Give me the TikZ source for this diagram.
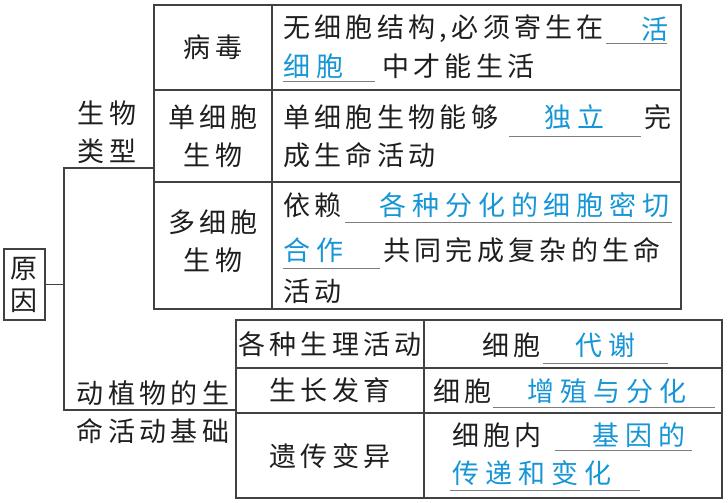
\documentclass[tikz,border=0pt]{standalone}
\usepackage{fontspec}
\usepackage{xcolor}
\usepackage{tikz}
\usetikzlibrary{positioning,fit,calc}
\setmainfont{Noto Sans CJK SC}
\newfontfamily\cjk[LetterSpace=16]{Noto Sans CJK SC}
\newfontfamily\cjkans[LetterSpace=22]{Noto Sans CJK SC}
\definecolor{gridrule}{RGB}{65,65,65}
\definecolor{blankrule}{RGB}{125,125,125}
\definecolor{answerblue}{RGB}{22,150,214}
\definecolor{inkblack}{RGB}{30,30,30}
\tikzset{
  frame/.style={draw=gridrule,line width=0.9pt,inner sep=0pt},
  rule/.style={draw=gridrule,line width=0.9pt},
  blank/.style={draw=blankrule,line width=0.6pt},
  head/.style={align=center,inner sep=0pt,text=inkblack,font=\cjk\fontsize{20.25pt}{28.5pt}\selectfont},
  txt/.style={anchor=west,inner sep=0pt,text=inkblack,font=\cjk\fontsize{20.25pt}{24pt}\selectfont},
  ans/.style={anchor=west,inner sep=0pt,text=answerblue,font=\cjkans\fontsize{20.25pt}{24pt}\selectfont},
  rootbox/.style={draw=gridrule,line width=0.9pt,align=center,inner sep=0pt,minimum width=30.75pt,minimum height=53.25pt,text=inkblack,font=\cjk\fontsize{20.25pt}{24pt}\selectfont}
}
\begin{document}
\begin{tikzpicture}[x=0.75pt,y=-0.75pt]
  \useasboundingbox (0,0) rectangle (728,503);
  \coordinate (tt1) at (154,5);
  \coordinate (tt2) at (681,309);
  \coordinate (bt1) at (236,320);
  \coordinate (bt2) at (722,498);
  \node[frame,fit=(tt1)(tt2)] (toptab) {};
  \node[frame,fit=(bt1)(bt2)] (bottab) {};
  \draw[rule] (272,5) -- (272,309);
  \draw[rule] (154,90) -- (681,90);
  \draw[rule] (154,182) -- (681,182);
  \draw[rule] (424,320) -- (424,498);
  \draw[rule] (236,368) -- (722,368);
  \draw[rule] (236,413) -- (722,413);

  \node[rootbox] (cause) at (24.5,284.5) {原\\因};
  \coordinate (brtop) at (64,168);
  \coordinate (brbot) at (64,410);
  \draw[rule] (toptab.west |- brtop) -- (brtop) -- (brbot) -- (bottab.west |- brbot);
  \draw[rule] (cause.east) -- (cause.east -| brtop);

  \node[head] (kinds) at (107,132) {生物\\类型};
  \node[head] (basis) at (153,412.5) {动植物的生\\命活动基础};

  \node[head] (virus) at (213,47) {病毒};
  \node[head] (single) at (213,136) {单细胞\\生物};
  \node[head] (multi) at (213,241) {多细胞\\生物};

  \node[txt] (v1) at (283,29) {无细胞结构,必须寄生在};
  \node[ans] (v1a) at (641,29) {活};
  \draw[blank] (606,43) -- (667,43);
  \node[ans] (v2a) at (283,66) {细胞};
  \draw[blank] (283,81) -- (375,81);
  \node[txt] (v2) at (382,66) {中才能生活};

  \node[txt] (s1) at (283,117) {单细胞生物能够};
  \node[ans] (s1a) at (544,117) {独立};
  \draw[blank] (509,136) -- (641,136);
  \node[txt] (s1b) at (644,117) {完};
  \node[txt] (s2) at (283,155) {成生命活动};

  \node[txt] (m1) at (283,205) {依赖};
  \node[ans] (m1a) at (379,205) {各种分化的细胞密切};
  \draw[blank] (345,222) -- (672,222);
  \node[ans] (m2a) at (283,250) {合作};
  \draw[blank] (283,268) -- (380,268);
  \node[txt] (m2) at (383,250) {共同完成复杂的生命};
  \node[txt] (m3) at (283,291) {活动};

  \node[head] (physio) at (330,344) {各种生理活动};
  \node[head] (growth) at (330,390) {生长发育};
  \node[head] (hered) at (330,456) {遗传变异};

  \node[txt] (p1) at (482,345) {细胞};
  \node[ans] (p1a) at (575,345) {代谢};
  \draw[blank] (543,363) -- (668,363);
  \node[txt] (g1) at (433,391) {细胞};
  \node[ans] (g1a) at (527,391) {增殖与分化};
  \draw[blank] (493,407) -- (715,407);
  \node[txt] (h1) at (452,435) {细胞内};
  \node[ans] (h1a) at (592,435) {基因的};
  \draw[blank] (555,450) -- (692,450);
  \node[ans] (h2a) at (452,473) {传递和变化};
  \draw[blank] (450,490) -- (640,490);
\end{tikzpicture}
\end{document}
